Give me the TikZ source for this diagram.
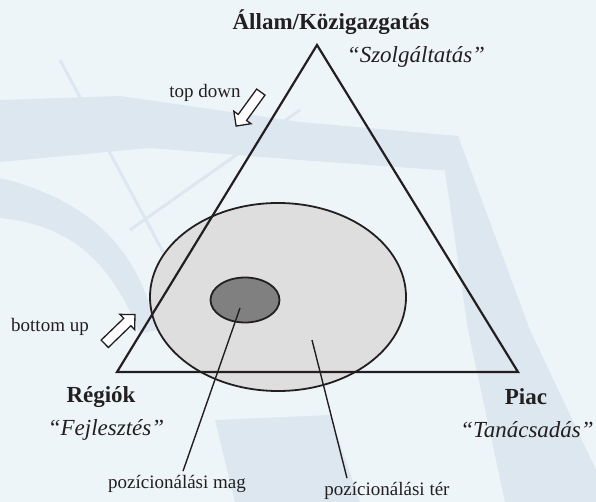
\documentclass[tikz,border=0pt]{standalone}
\usepackage{fontspec}
\setmainfont{Liberation Serif}
\usepackage{tikz}
\usetikzlibrary{shapes.arrows, shapes.geometric, positioning, calc}
\definecolor{bgpaper}{HTML}{EEF5F9}
\definecolor{bridgeblue}{HTML}{DCE7F0}
\definecolor{ink}{HTML}{231F20}
\definecolor{spacegray}{HTML}{DEDEDE}
\definecolor{coregray}{HTML}{808080}

\begin{document}
\begin{tikzpicture}[
  x=1pt, y=-1pt,
  corner/.style={font=\fontsize{23}{26}\selectfont\bfseries, text=ink, inner sep=0pt},
  motto/.style={font=\fontsize{23}{26}\selectfont\itshape, text=ink, inner sep=0pt},
  note/.style={font=\fontsize{19}{22}\selectfont, text=ink, inner sep=0pt},
  flow/.style={single arrow, draw=ink, fill=white, line width=1.3pt, inner sep=4.5pt,
    minimum height=42pt, single arrow head extend=5.5pt},
  zone/.style={ellipse, draw=ink, line width=1.8pt, inner sep=0pt},
  lead/.style={ink, line width=1.4pt}
]

% background and bridge shadow
\fill[bgpaper] (0,0) rectangle (596,502);
\useasboundingbox (0,0) rectangle (596,502);
\fill[bridgeblue] (0,100) -- (120,96) -- (300,122) -- (458,136) -- (466,172) -- (300,160) -- (150,148) -- (0,162) -- cycle;
\fill[bridgeblue] (440,136) -- (458,136) -- (530,330) -- (596,470) -- (596,502) -- (505,502) -- (468,330) -- cycle;
\fill[bridgeblue] (0,178) .. controls (90,200) and (140,250) .. (156,330) -- (140,334) .. controls (110,260) and (70,225) .. (0,218) -- cycle;
\fill[bridgeblue] (215,420) -- (330,415) -- (360,502) -- (235,502) -- cycle;
\draw[bridgeblue, line width=3pt] (60,60) -- (205,330);
\draw[bridgeblue, line width=3pt] (130,230) -- (300,110);

% positioning space and core
\node[zone, fill=spacegray, minimum width=256pt, minimum height=188pt] (space) at (278,297) {};
\node[zone, fill=coregray, minimum width=69pt, minimum height=45pt] (core) at (245,300) {};

% triangle
\coordinate (apex) at (317,45);
\coordinate (left) at (117,372);
\coordinate (right) at (518,372);
\draw[ink, line width=2.2pt, line join=miter] (apex) -- (left) -- (right) -- cycle;

% corners
\node[corner] (state) at (331,22) {Állam/Közigazgatás};
\node[motto] (service) at (416,57) {“Szolgáltatás”};
\node[corner] (regions) at (101,397) {Régiók};
\node[motto] (develop) at (106,430) {“Fejlesztés”};
\node[corner] (market) at (526,397) {Piac};
\node[motto] (consult) at (527,430) {“Tanácsadás”};

% directions
\node[note] (tdtext) at (205,93) {top down};
\node[flow, rotate=234] (tdarrow) at (250,107) {};
\node[note] (butext) at (50,327) {bottom up};
\node[flow, rotate=44] (buarrow) at (118,331) {};

% leaders
\coordinate (corept) at (240,308);
\coordinate (spacept) at (312,340);
\node[note] (corelbl) at (177,484) {pozícionálási mag};
\node[note] (spacelbl) at (387,491) {pozícionálási tér};
\draw[lead] (corept) -- ([xshift=6pt,yshift=4pt]corelbl.north);
\draw[lead] (spacept) -- ([xshift=-40pt,yshift=4pt]spacelbl.north);

\end{tikzpicture}
\end{document}
